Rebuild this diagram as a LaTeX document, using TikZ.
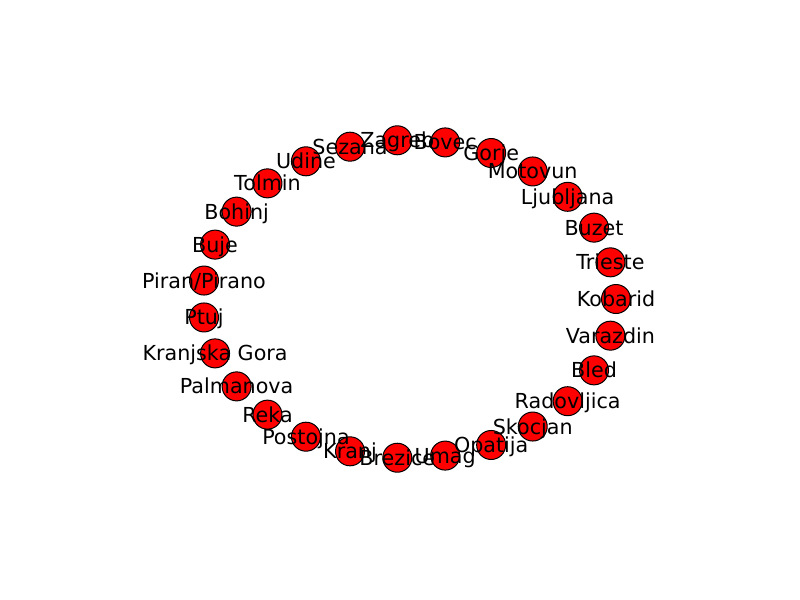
\documentclass[tikz,border=0pt]{standalone}
\usepackage{fontspec}
\setmainfont{DejaVu Sans}
\tikzset{
  city/.style={circle, draw=black, fill=red, minimum size=21.75pt, inner sep=0pt, line width=0.75pt},
  cityname/.style={font=\fontsize{15.5}{18}\selectfont, inner sep=0pt, anchor=base, yshift=-5.6pt},
}
\newcommand{\citylist}{Kobarid,Trieste,Buzet,Ljubljana,Motovun,Gorje,Bovec,Zagreb,Sezana,Udine,Tolmin,Bohinj,Buje,Piran/Pirano,Ptuj,Kranjska Gora,Palmanova,Reka,Postojna,Kranj,Brezice,Umag,Opatija,Skocjan,Radovljica,Bled,Varazdin}

\begin{document}
\begin{tikzpicture}[x=0.75pt,y=-0.75pt]
  \useasboundingbox (0,0) rectangle (800,600);
  % circles first, on an ellipse, counter-clockwise from the right
  \foreach \name [count=\k from 0] in \citylist {
    \pgfmathsetmacro{\a}{\k*360/27}
    \node[city] (n\k) at ({409.3+206.7*cos(\a)},{299-159*sin(\a)}) {};
  }
  % names on top of all circles
  \foreach \name [count=\k from 0] in \citylist
    \node[cityname] (l\k) at (n\k) {\name};
\end{tikzpicture}
\end{document}
